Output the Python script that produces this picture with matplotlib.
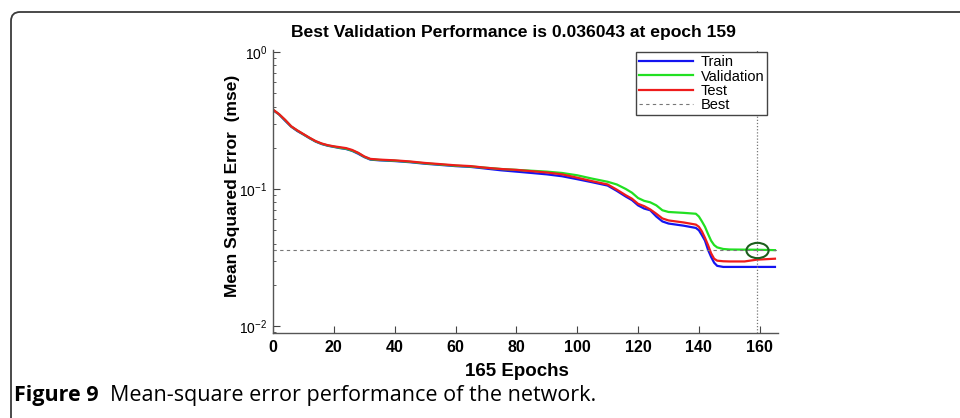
import matplotlib
matplotlib.use("Agg")
import matplotlib.pyplot as plt
from matplotlib.markers import MarkerStyle
from matplotlib.transforms import Affine2D, IdentityTransform
from matplotlib.patches import FancyBboxPatch
from matplotlib.ticker import LogLocator, NullFormatter

plt.rcParams['font.family'] = ['Liberation Sans', 'DejaVu Sans']
plt.rcParams['mathtext.fontset'] = 'custom'
plt.rcParams['mathtext.rm'] = 'Liberation Sans'
plt.rcParams['mathtext.it'] = 'Liberation Sans'

# values
epochs = [0, 2, 4, 6, 8, 10, 12, 14, 16, 18, 20, 22, 24, 26, 28, 30, 32,
          35, 40, 45, 50, 55, 60, 65, 70, 75, 80, 85, 90, 95, 100, 105, 110,
          113, 116, 118, 120, 122, 124, 126, 128, 130,
          135, 139, 140, 141, 142, 143, 144, 145, 146, 148, 150, 155, 159, 165]

train = [0.377, 0.350, 0.315, 0.285, 0.265, 0.250, 0.235, 0.222, 0.213, 0.207, 0.203, 0.199, 0.196, 0.190, 0.181, 0.171, 0.164,
         0.162, 0.160, 0.157, 0.153, 0.150, 0.147, 0.145, 0.141, 0.137, 0.134, 0.131, 0.128, 0.124, 0.118, 0.112, 0.106,
         0.097, 0.088, 0.083, 0.076, 0.072, 0.070, 0.063, 0.058, 0.056,
         0.054, 0.052, 0.050, 0.046, 0.042, 0.036, 0.032, 0.029, 0.0275, 0.027, 0.027, 0.027, 0.027, 0.027]

validation = [0.379, 0.351, 0.318, 0.286, 0.267, 0.251, 0.236, 0.223, 0.214, 0.208, 0.204, 0.200, 0.197, 0.191, 0.183, 0.172, 0.165,
              0.163, 0.161, 0.158, 0.154, 0.151, 0.148, 0.146, 0.143, 0.140, 0.138, 0.136, 0.134, 0.131, 0.126, 0.119, 0.113,
              0.108, 0.100, 0.094, 0.086, 0.082, 0.080, 0.076, 0.070, 0.068,
              0.067, 0.066, 0.063, 0.058, 0.053, 0.047, 0.042, 0.039, 0.0375, 0.0365, 0.0362, 0.0361, 0.036043, 0.0358]

test = [0.380, 0.352, 0.320, 0.287, 0.268, 0.252, 0.237, 0.224, 0.215, 0.209, 0.205, 0.202, 0.199, 0.193, 0.184, 0.173, 0.166,
        0.164, 0.162, 0.159, 0.155, 0.152, 0.149, 0.147, 0.143, 0.140, 0.138, 0.135, 0.132, 0.128, 0.121, 0.114, 0.108,
        0.099, 0.090, 0.085, 0.078, 0.075, 0.071, 0.066, 0.061, 0.059,
        0.057, 0.055, 0.053, 0.049, 0.044, 0.039, 0.034, 0.031, 0.030, 0.0297, 0.0296, 0.0296, 0.0305, 0.031]

best_epoch = 159
best_perf = 0.036043
n_epochs = 165

W, H = 960, 418
fig = plt.figure(figsize=(W / 100, H / 100), dpi=100)
fig.patch.set_facecolor('white')

# journal figure frame (rounded top-left corner, open right/bottom)
frame = FancyBboxPatch((11, -40), 1100, H - 12 + 40, boxstyle="round,pad=0,rounding_size=9",
                       transform=IdentityTransform(), facecolor='none', edgecolor='#3a3a3a', lw=1.3)
fig.patches.append(frame)

ax = fig.add_axes([273 / W, 1 - 333 / H, (778 - 273) / W, (333 - 50) / H])
ax.set_yscale('log')

ax.plot(epochs, train, color='#1414f0', lw=1.6, label='Train')
ax.plot(epochs, validation, color='#22e022', lw=1.6, label='Validation')
ax.plot(epochs, test, color='#ee1c1c', lw=1.6, label='Test')
ax.axhline(best_perf, color='#777777', lw=0.8, ls=(0, (3, 3)), label='Best')
ax.axvline(best_epoch, color='#777777', lw=0.9, ls=(0, (1, 1.5)))

ell = MarkerStyle('o', fillstyle='none', transform=Affine2D().scale(1.45, 1.0))
ax.plot([best_epoch], [best_perf], marker=ell, ms=11, mec='#1c5e1c', mew=1.5, ls='none')

ax.set_xlim(0, 166)
ax.set_ylim(10 ** -2.051, 10 ** 0.015)
ax.set_xticks(range(0, 161, 20))
ax.yaxis.set_major_locator(LogLocator(base=10, numticks=5))
ax.yaxis.set_minor_locator(LogLocator(base=10, subs=range(2, 10), numticks=20))
ax.yaxis.set_minor_formatter(NullFormatter())

for s in ['top', 'right']:
    ax.spines[s].set_visible(False)
for s in ['left', 'bottom']:
    ax.spines[s].set_color('#555555')
    ax.spines[s].set_linewidth(1.0)

ax.tick_params(which='both', direction='in', color='#444444')
ax.tick_params(which='major', length=5)
ax.tick_params(which='minor', length=2.5)
ax.tick_params(axis='x', labelsize=11.5, pad=5)
ax.tick_params(axis='y', labelsize=10, pad=4)
for lab in ax.get_xticklabels():
    lab.set_fontweight('bold')

ax.set_ylabel('Mean Squared Error  (mse)', fontsize=12.5, fontweight='bold')
ax.yaxis.set_label_coords(-0.066, 0.52)

leg = ax.legend(loc='upper left', bbox_to_anchor=(636 / W, 1 - 52 / H), bbox_transform=fig.transFigure,
                fontsize=10.5, handlelength=3.7, handletextpad=0.5, labelspacing=0.02,
                borderpad=0.22, borderaxespad=0, fancybox=False, framealpha=1, edgecolor='#444444')
leg.get_frame().set_linewidth(1.0)

fig.text(513 / W, 1 - 33 / H, 'Best Validation Performance is 0.036043 at epoch 159',
         ha='center', va='center', fontsize=12.6, fontweight='bold')
fig.text(517 / W, 1 - 371 / H, '165 Epochs', ha='center', va='center', fontsize=13.5, fontweight='bold')

cap = fig.text(14 / W, 1 - 396 / H, 'Figure 9', ha='left', va='center', fontsize=15.5,
               fontweight='bold', family=['Open Sans', 'DejaVu Sans'])
ax.annotate('Mean-square error performance of the network.', xy=(1, 0.5), xycoords=cap,
            xytext=(8, 0), textcoords='offset points', ha='left', va='center',
            fontsize=15.5, family=['Open Sans', 'DejaVu Sans'], annotation_clip=False)

fig.savefig('out.png', dpi=100)
